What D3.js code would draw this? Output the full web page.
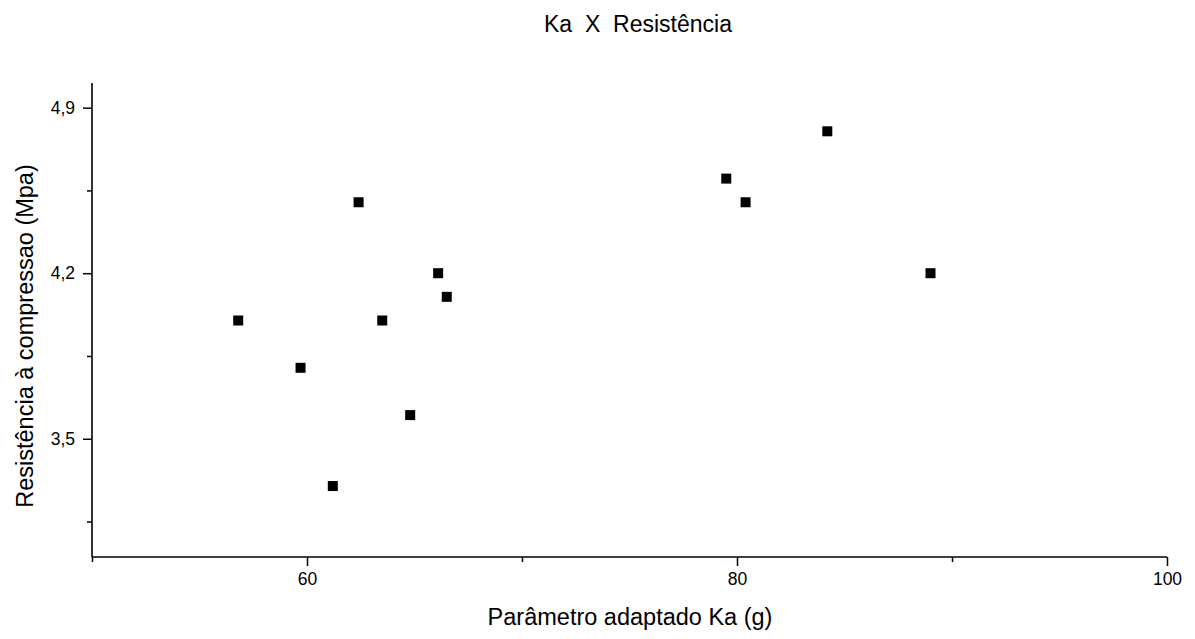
<!DOCTYPE html>
<html>
<head>
<meta charset="utf-8">
<script src="https://cdn.jsdelivr.net/npm/d3@7"></script>
<style>
  body { margin: 0; background: #fff; }
  text { font-family: "Liberation Sans", Arial, sans-serif; fill: #000; }
</style>
</head>
<body>
<svg id="chart" width="1195" height="639"></svg>
<script>
// data
const kaValues = [56.8, 59.7, 61.2, 62.4, 63.5, 64.8, 66.1, 66.5, 79.5, 80.4, 84.2, 89.0];
const resistValues = [4.0, 3.8, 3.3, 4.5, 4.0, 3.6, 4.2, 4.1, 4.6, 4.5, 4.8, 4.2];
const xMajorTicks = [60, 80, 100];
const xMinorTicks = [50, 70, 90];
const yMajorTicks = [3.5, 4.2, 4.9];
const yMinorTicks = [3.15, 3.85, 4.55];

const svg = d3.select("#chart");

const plotLeft = 92, plotRight = 1167, plotTop = 84, plotBottom = 557;

const x = d3.scaleLinear().domain([50, 100]).range([plotLeft, plotRight]);
const y = d3.scaleLinear().domain([3.0, 5.0]).range([plotBottom, plotTop]);

const fmtY = d => d3.format(".1f")(d).replace(".", ",");

// bottom axis
const xAxis = svg.append("g")
  .attr("transform", `translate(0,${plotBottom})`)
  .call(d3.axisBottom(x).tickValues(xMajorTicks).tickSize(9).tickPadding(7).tickFormat(d3.format("d")));
xAxis.select(".domain").attr("stroke-width", 1.6).attr("d", `M${plotLeft},0H${plotRight}`);
xAxis.selectAll(".tick line").attr("stroke-width", 1.5);
xAxis.selectAll(".tick text").style("font-size", "17.5px").style("font-family", "Liberation Sans, Arial, sans-serif");

svg.append("g")
  .attr("transform", `translate(0,${plotBottom})`)
  .call(d3.axisBottom(x).tickValues(xMinorTicks).tickSize(5).tickFormat(""))
  .call(g => g.select(".domain").remove())
  .selectAll(".tick line").attr("stroke-width", 1.5);

// left axis
const yAxis = svg.append("g")
  .attr("transform", `translate(${plotLeft},0)`)
  .call(d3.axisLeft(y).tickValues(yMajorTicks).tickSize(9).tickPadding(8).tickFormat(fmtY));
yAxis.select(".domain").attr("stroke-width", 1.6).attr("d", `M0,${plotTop - 1}V${plotBottom}`);
yAxis.selectAll(".tick line").attr("stroke-width", 1.5);
yAxis.selectAll(".tick text").style("font-size", "17.5px").style("font-family", "Liberation Sans, Arial, sans-serif");

svg.append("g")
  .attr("transform", `translate(${plotLeft},0)`)
  .call(d3.axisLeft(y).tickValues(yMinorTicks).tickSize(5).tickFormat(""))
  .call(g => g.select(".domain").remove())
  .selectAll(".tick line").attr("stroke-width", 1.5);

// points
const pts = kaValues.map((k, i) => ({ ka: k, r: resistValues[i] }));
svg.append("g")
  .selectAll("rect")
  .data(pts)
  .enter()
  .append("rect")
  .attr("x", d => x(d.ka) - 5)
  .attr("y", d => y(d.r) - 5)
  .attr("width", 10)
  .attr("height", 10)
  .attr("fill", "#000");

// titles
svg.append("text")
  .attr("x", 638)
  .attr("y", 32)
  .attr("text-anchor", "middle")
  .style("font-size", "23px")
  .style("white-space", "pre")
  .text("Ka  X  Resistência");

svg.append("text")
  .attr("x", 630)
  .attr("y", 625)
  .attr("text-anchor", "middle")
  .style("font-size", "23.5px")
  .text("Parâmetro adaptado Ka (g)");

svg.append("text")
  .attr("transform", "translate(33,336) rotate(-90)")
  .attr("text-anchor", "middle")
  .style("font-size", "23.5px")
  .text("Resistência à compressao (Mpa)");
</script>
</body>
</html>
